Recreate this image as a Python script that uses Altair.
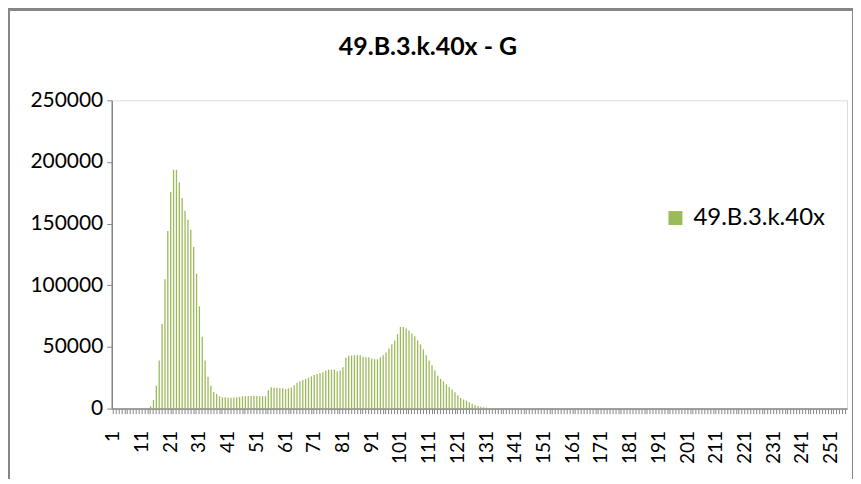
import altair as alt
import pandas as pd

# Histogram counts for bins 1..256
leading_zero_bins = 13  # bins 1..13 are empty
counts_from_14 = [
    2000, 7000, 18600, 39000, 68600, 105000, 144000, 175600, 193700, 193700,   # 14-23
    183400, 170700, 160500, 153200, 145000, 131000, 109400, 82900, 58300, 39100,  # 24-33
    25900, 18600, 13500, 11900, 10000, 9200, 9200, 8800, 8800, 9000,           # 34-43
    9200, 9500, 10000, 10000, 10200, 10200, 10500, 10200, 10000, 10000,        # 44-53
    10000, 14800, 17300, 17000, 17000, 16500, 16500, 15900, 16500, 17000,      # 54-63
    18900, 21000, 22100, 23200, 24300, 25100, 26200, 27300, 28000, 28600,      # 64-73
    29400, 30800, 31600, 31600, 31600, 30200, 31000, 33500, 41300, 42900,      # 74-83
    43000, 43200, 43200, 43200, 42100, 41600, 41600, 40500, 40000, 40000,      # 84-93
    41600, 43200, 45600, 48800, 52100, 55300, 60400, 66100, 66100, 65000,      # 94-103
    63400, 61000, 58600, 55300, 52100, 48000, 43200, 39100, 35100, 31000,      # 104-113
    26700, 24000, 22100, 19700, 17500, 15400, 13200, 10800, 8600, 7300,        # 114-123
    6500, 5100, 4000, 2900, 2100, 1600, 1100, 800, 500, 300,                   # 124-133
    200, 100,                                                                  # 134-135
]
n_bins = 256
series_name = "49.B.3.k.40x"
title_text = "49.B.3.k.40x - G"
y_ticks = [0, 50000, 100000, 150000, 200000, 250000]

counts = [0] * leading_zero_bins + counts_from_14
counts = counts + [0] * (n_bins - len(counts))
bins = list(range(1, n_bins + 1))

df = pd.DataFrame({"bin": bins, "count": counts, "series": series_name})
title_df = pd.DataFrame({"t": [title_text]})

FONT = "Lato"
GRAY = "#868686"
GREEN = "#9BBB59"

bars = alt.Chart(df).mark_bar(size=1.3).encode(
    x=alt.X(
        "bin:O",
        sort=bins,
        scale=alt.Scale(paddingInner=0.55, paddingOuter=0.3),
        axis=alt.Axis(
            title=None,
            labelAngle=-90,
            labelExpr="(datum.value - 1) % 10 == 0 ? datum.label : ''",
            labelOverlap=False,
            labelFont=FONT,
            labelFontSize=19,
            labelColor="#000000",
            labelPadding=17,
            tickSize=5,
            tickColor=GRAY,
            domainColor=GRAY,
            domainWidth=1.5,
        ),
    ),
    y=alt.Y(
        "count:Q",
        scale=alt.Scale(domain=[0, 250000], nice=False),
        axis=alt.Axis(
            title=None,
            values=y_ticks,
            format="d",
            grid=False,
            labelFont=FONT,
            labelFontSize=21,
            labelColor="#000000",
            labelPadding=4,
            tickSize=5,
            tickColor=GRAY,
            domainColor=GRAY,
            domainWidth=1.5,
        ),
    ),
    color=alt.Color(
        "series:N",
        scale=alt.Scale(domain=[series_name], range=[GREEN]),
        legend=alt.Legend(
            title=None,
            orient="none",
            legendX=553,
            legendY=106,
            symbolType="square",
            symbolSize=196,
            symbolStrokeWidth=0,
            labelFont=FONT,
            labelFontSize=24,
            labelColor="#000000",
            labelOffset=6,
            padding=0,
        ),
    ),
)

frame_left = alt.Chart(df).mark_rule(color=GRAY, strokeWidth=2).encode(
    x=alt.value(-103), y=alt.value(-91), y2=alt.value(400)
)
frame_top = alt.Chart(df).mark_rule(color=GRAY, strokeWidth=2).encode(
    x=alt.value(-104), x2=alt.value(743), y=alt.value(-91)
)
frame_right = alt.Chart(df).mark_rule(color=GRAY, strokeWidth=2).encode(
    x=alt.value(743), y=alt.value(-92), y2=alt.value(400)
)

title = alt.Chart(title_df).mark_text(
    font=FONT, fontSize=25, fontWeight="bold", color="#000000",
    align="center", baseline="middle",
).encode(text="t:N", x=alt.value(317), y=alt.value(-53))

chart = (
    alt.layer(frame_left, frame_top, frame_right, title, bars)
    .properties(
        width=737,
        height=309,
        autosize=alt.AutoSizeParams(type="none"),
        padding={"left": 104, "top": 92, "right": 6, "bottom": 70},
    )
    .configure_view(stroke=None)
    .configure(background="white")
)

chart.save("out.html", embed_options={"renderer": "svg", "actions": False})
